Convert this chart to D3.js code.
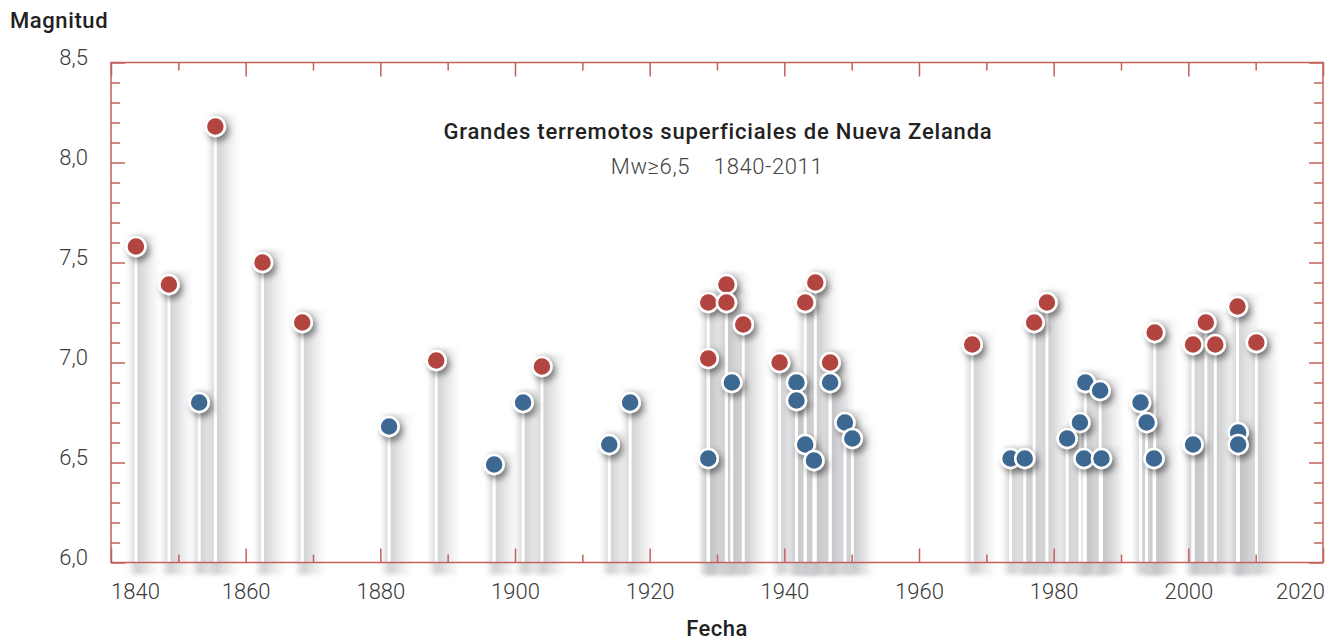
<!DOCTYPE html>
<html>
<head>
<meta charset="utf-8">
<script src="https://cdn.jsdelivr.net/npm/d3@7"></script>
<style>
  body { margin: 0; background: #fff; }
  svg text { font-family: Roboto, "Noto Sans", sans-serif; }
</style>
</head>
<body>
<svg id="chart" width="1331" height="640"></svg>
<script>
// sismos grandes (rojo) y sismos menores (azul)
var rojoAnios = [1843.7, 1848.6, 1855.5, 1862.5, 1868.4, 1888.3, 1904.0, 1928.7, 1928.7, 1931.4, 1931.4, 1933.9, 1939.3,
    1943.1, 1944.6, 1946.8, 1967.9, 1977.1, 1979.0, 1995.0, 2000.7, 2002.6, 2004.0, 2007.3, 2010.1]
var rojoMag = [7.58, 7.39, 8.18, 7.50, 7.20, 7.01, 6.98, 7.30, 7.02, 7.39, 7.30, 7.19, 7.00,
    7.30, 7.40, 7.00, 7.09, 7.20, 7.30, 7.15, 7.09, 7.20, 7.09, 7.28, 7.10]

var azulAnios = [1853.1, 1881.3, 1896.9, 1901.2, 1914.0, 1917.1, 1928.7, 1932.2, 1941.8, 1941.8, 1943.1, 1944.4, 1946.8,
    1949.0, 1950.1, 1973.6, 1975.7, 1982.0, 1983.9, 1984.5, 1984.7, 1986.9, 1987.1, 1992.9, 1993.8, 1994.9,
    2000.7, 2007.4, 2007.4]
var azulMag = [6.80, 6.68, 6.49, 6.80, 6.59, 6.80, 6.52, 6.90, 6.90, 6.81, 6.59, 6.51, 6.90,
    6.70, 6.62, 6.52, 6.52, 6.62, 6.70, 6.52, 6.90, 6.86, 6.52, 6.80, 6.70, 6.52,
    6.59, 6.65, 6.59]

var xTicksMayor = [1840, 1860, 1880, 1900, 1920, 1940, 1960, 1980, 2000, 2020]
var xTicksMenor = [1850, 1870, 1890, 1910, 1930, 1950, 1970, 1990, 2010]
var yTicksMayor = [6.0, 6.5, 7.0, 7.5, 8.0, 8.5]
var yTicksMenor = [6.1, 6.2, 6.3, 6.4, 6.6, 6.7, 6.8, 6.9, 7.1, 7.2, 7.3, 7.4, 7.6, 7.7, 7.8, 7.9, 8.1, 8.2, 8.3, 8.4]

var titulo = "Grandes terremotos superficiales de Nueva Zelanda"
var subtitulo = "Mw\u22656,5\u00a0\u00a0\u00a0\u00a01840-2011"

var margin = { top: 62.5, left: 111, right: 8, bottom: 77.5 },
    width = 1331 - margin.left - margin.right,
    height = 640 - margin.top - margin.bottom

var rojo = "#b2443f", azul = "#3e6891", ejeColor = "#c4605c", textoColor = "#3a3a3a"

var svg = d3.select("#chart")
var defs = svg.append("defs")

// gradient for the grey band behind each stem
var grad = defs.append("linearGradient").attr("id", "banda").attr("x1", 0).attr("x2", 1).attr("y1", 0).attr("y2", 0)
grad.append("stop").attr("offset", "0").attr("stop-color", "#d9dadc").attr("stop-opacity", 0)
grad.append("stop").attr("offset", "0.12").attr("stop-color", "#d9dadc").attr("stop-opacity", 0.6)
grad.append("stop").attr("offset", "0.27").attr("stop-color", "#bfc0c3").attr("stop-opacity", 0.75)
grad.append("stop").attr("offset", "0.5").attr("stop-color", "#c6c7ca").attr("stop-opacity", 0.55)
grad.append("stop").attr("offset", "1").attr("stop-color", "#d0d0d0").attr("stop-opacity", 0)

defs.append("filter").attr("id", "blur").attr("x", "-50%").attr("y", "-10%").attr("width", "200%").attr("height", "120%")
    .append("feGaussianBlur").attr("stdDeviation", 2)

var sombra = defs.append("filter").attr("id", "sombra").attr("x", "-50%").attr("y", "-50%").attr("width", "220%").attr("height", "220%")
sombra.append("feDropShadow").attr("dx", 3).attr("dy", 4).attr("stdDeviation", 3)
    .attr("flood-color", "#000").attr("flood-opacity", 0.45)

var g = svg.append("g").attr("transform", "translate(" + margin.left + "," + margin.top + ")")

// scales
var x = d3.scaleLinear().domain([1840, 2020]).range([0, width])
var y = d3.scaleLinear().domain([6.0, 8.5]).range([height, 0])

// build points, draw lower ones last so they sit on top
var puntos = []
rojoAnios.forEach(function(a, i) { puntos.push({ anio: a, mag: rojoMag[i], color: rojo }) })
azulAnios.forEach(function(a, i) { puntos.push({ anio: a, mag: azulMag[i], color: azul }) })
puntos.sort(function(a, b) { return b.mag - a.mag })

// grey bands
g.append("g").selectAll("rect")
    .data(puntos)
    .join("rect")
    .attr("x", function(d) { return x(d.anio) - 8 })
    .attr("y", function(d) { return y(d.mag) - 12 })
    .attr("width", 32)
    .attr("height", function(d) { return height - y(d.mag) + 24 })
    .attr("fill", "url(#banda)")
    .attr("filter", "url(#blur)")

// white stems
g.append("g").selectAll("line")
    .data(puntos)
    .join("line")
    .attr("x1", function(d) { return x(d.anio) })
    .attr("x2", function(d) { return x(d.anio) })
    .attr("y1", height)
    .attr("y2", function(d) { return y(d.mag) })
    .attr("stroke", "#fff")
    .attr("stroke-width", 3)

// axes
function estiloEje(sel) {
    sel.select(".domain").remove()
    sel.selectAll("line").attr("stroke", ejeColor).attr("stroke-width", 1.5)
    sel.selectAll("text").attr("fill", textoColor).style("font-size", "22px").style("font-weight", 300)
}

g.append("g").attr("transform", "translate(0," + height + ")")
    .call(d3.axisBottom(x).tickValues(xTicksMayor).tickSize(-14).tickPadding(36).tickFormat(d3.format("d")))
    .call(estiloEje)
    .call(function(s) {
        s.selectAll("text").attr("dy", "0")
            .attr("dx", function(d) { return d === 1840 ? 24 : d === 2020 ? -23 : 0 })
    })
g.append("g").attr("transform", "translate(0," + height + ")")
    .call(d3.axisBottom(x).tickValues(xTicksMenor).tickSize(-8).tickFormat(""))
    .call(estiloEje)
g.append("g")
    .call(d3.axisTop(x).tickValues(xTicksMayor).tickSize(-14).tickFormat(""))
    .call(estiloEje)
g.append("g")
    .call(d3.axisTop(x).tickValues(xTicksMenor).tickSize(-8).tickFormat(""))
    .call(estiloEje)

var fmtComa = function(d) { return d3.format(".1f")(d).replace(".", ",") }
g.append("g")
    .call(d3.axisLeft(y).tickValues(yTicksMayor).tickSize(-14).tickPadding(23).tickFormat(fmtComa))
    .call(estiloEje)
    .call(function(s) { s.selectAll("text").attr("dy", "0.32em").attr("y", -5) })
g.append("g")
    .call(d3.axisLeft(y).tickValues(yTicksMenor).tickSize(-9).tickFormat(""))
    .call(estiloEje)
g.append("g").attr("transform", "translate(" + width + ",0)")
    .call(d3.axisRight(y).tickValues(yTicksMayor).tickSize(-14).tickFormat(""))
    .call(estiloEje)
g.append("g").attr("transform", "translate(" + width + ",0)")
    .call(d3.axisRight(y).tickValues(yTicksMenor).tickSize(-9).tickFormat(""))
    .call(estiloEje)

// frame
g.append("rect")
    .attr("width", width)
    .attr("height", height)
    .attr("fill", "none")
    .attr("stroke", ejeColor)
    .attr("stroke-width", 1.5)

// circles
g.append("g").selectAll("circle")
    .data(puntos)
    .join("circle")
    .attr("cx", function(d) { return x(d.anio) })
    .attr("cy", function(d) { return y(d.mag) })
    .attr("r", 9.5)
    .attr("fill", function(d) { return d.color })
    .attr("stroke", "#fff")
    .attr("stroke-width", 2.5)
    .attr("filter", "url(#sombra)")

// titles
svg.append("text")
    .attr("x", 718).attr("y", 139)
    .attr("text-anchor", "middle")
    .attr("fill", "#222")
    .style("font-size", "22px").style("font-weight", 500).style("letter-spacing", "0.8px")
    .text(titulo)

svg.append("text")
    .attr("x", 717).attr("y", 174)
    .attr("text-anchor", "middle")
    .attr("fill", "#444")
    .style("font-size", "22px").style("font-weight", 300).style("letter-spacing", "0.6px")
    .text(subtitulo)

// axis labels
svg.append("text")
    .attr("x", 10).attr("y", 28)
    .attr("fill", "#222")
    .style("font-size", "22px").style("font-weight", 500).style("letter-spacing", "0.6px")
    .text("Magnitud")

svg.append("text")
    .attr("x", 717).attr("y", 636)
    .attr("text-anchor", "middle")
    .attr("fill", "#222")
    .style("font-size", "22px").style("font-weight", 500).style("letter-spacing", "0.5px")
    .text("Fecha")
</script>
</body>
</html>
